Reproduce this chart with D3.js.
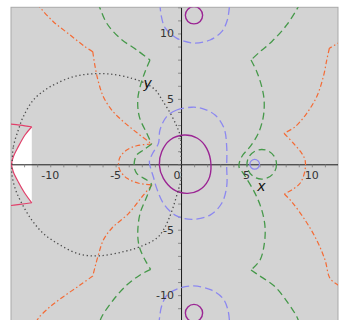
<!DOCTYPE html>
<html>
<head>
<meta charset="utf-8">
<script src="https://cdn.jsdelivr.net/npm/d3@7"></script>
<style>
  body { margin: 0; background: #fff; }
  svg { display: block; }
  text { font-family: "DejaVu Sans", sans-serif; }
</style>
</head>
<body>
<svg id="chart" width="340" height="320"></svg>
<script>
// ---- plot window and axis ticks ----
const xDomain = [-13, 12];
const yDomain = [-12, 12];
const xMinorTicks = d3.range(-13, 13);
const yMinorTicks = d3.range(-12, 13);
const xTickLabels = [-10, -5, 0, 5, 10];
const yTickLabels = [-10, -5, 5, 10];

// ---- level curves (x, y) ; each curve is a list of pieces split at corners ----
const purpleCenter = [[0.23,2.24],[1.25,1.99],[1.96,1.22],[2.29,-0.05],[2.09,-1.20],[1.32,-2.02],
  [0.43,-2.22],[-0.59,-1.91],[-1.35,-1.07],[-1.66,-0.05],[-1.48,0.96],[-0.84,1.86]];
const purpleRings = [[0.99, 11.39, 0.66], [0.99, -11.37, 0.66]];

const blueLoop = [[0.82,4.36],[-0.33,4.15],[-1.10,3.64],[-1.61,2.62],[-1.73,1.60],[-2.17,0.84],
  [-2.42,0.20],[-2.32,-0.31],[-2.12,-0.95],[-1.86,-1.84],[-1.35,-2.98],[-0.46,-3.88],[0.82,-4.21],
  [2.22,-3.88],[3.11,-2.98],[3.49,-1.71],[3.49,-0.18],[3.49,1.35],[3.29,2.75],[2.60,3.77],[1.58,4.28]];
const blueTop = [[-1.62,12.3],[-1.5,11.28],[-1.2,10.4],[-0.31,9.63],[0.97,9.27],[2.22,9.5],
  [3.11,10.14],[3.54,11.03],[3.72,12.3]];
const blueBottom = [[-1.7,-12.3],[-1.5,-10.89],[-1.07,-9.99],[-0.18,-9.48],[0.97,-9.3],[2.3,-9.6],
  [3.2,-10.25],[3.6,-11.2],[3.72,-12.3]];
const blueRing = [5.63, 0, 0.37];

const greenRight = [
  [[9.1,12.3],[8.97,12.05],[8.08,10.65],[6.93,9.37],[6.04,8.61],[5.35,7.97]],
  [[5.35,7.97],[5.79,7.08],[6.17,5.93],[6.35,4.92],[6.29,3.64],[5.91,2.37],[5.28,1.35],[4.64,0.58],
   [4.43,-0.18],[4.76,-0.69],[5.66,-2.22],[6.17,-3.49],[6.42,-4.77],[6.37,-6.04],[6.04,-7.32],[5.35,-8.08]],
  [[5.35,-8.08],[5.91,-8.46],[7.19,-9.36],[8.20,-10.63],[8.85,-11.65],[9.1,-12.3]]
];
const greenLeft = [
  [[-6.4,12.3],[-6.25,12.05],[-5.68,10.78],[-4.66,9.63],[-3.39,8.74],[-2.37,7.97]],
  [[-2.37,7.97],[-2.75,7.08],[-3.13,5.93],[-3.31,4.92],[-3.19,3.64],[-2.62,2.37],[-2.24,1.55]],
  [[-2.24,1.55],[-2.88,1.09],[-3.39,0.71],[-3.59,-0.05],[-3.39,-0.69],[-2.62,-1.20],[-2.24,-1.51]],
  [[-2.24,-1.51],[-2.62,-2.48],[-3.13,-3.75],[-3.31,-5.28],[-3.19,-6.30],[-2.75,-7.32],[-2.32,-8.03]],
  [[-2.32,-8.03],[-3.13,-8.46],[-4.15,-9.23],[-5.18,-10.37],[-6.06,-11.65],[-6.3,-12.3]]
];
const greenRing = [6.17, 0, 1.13];

const orangeLeft = [
  [[-11.0,12.3],[-10.83,12.05],[-9.76,10.90],[-8.49,9.89],[-7.34,8.99],[-6.75,8.61]],
  [[-6.75,8.61],[-6.57,7.46],[-6.32,6.31],[-5.94,5.17],[-5.30,4.15],[-4.41,3.26],[-3.39,2.43],[-2.24,1.55]],
  [[-2.24,1.55],[-3.39,1.42],[-4.15,1.09],[-4.66,0.56],[-4.78,-0.05],[-4.64,-0.51],[-4.13,-1.07],
   [-3.23,-1.45],[-2.22,-1.58]],
  [[-2.22,-1.58],[-2.98,-2.48],[-4.00,-3.75],[-5.28,-4.87],[-5.94,-5.79],[-6.32,-6.93],[-6.57,-7.83],[-6.75,-8.54]],
  [[-6.75,-8.54],[-7.72,-9.23],[-9.00,-10.12],[-10.02,-10.89],[-10.91,-11.77],[-11.2,-12.3]]
];
const orangeRight = [
  [[12.3,9.4],[12.0,9.25],[11.34,8.87]],
  [[11.34,8.87],[11.14,7.97],[10.88,6.70],[10.37,5.17],[9.61,3.90],[8.72,2.87],[7.87,2.37]],
  [[7.87,2.37],[8.59,1.61],[9.23,0.84],[9.48,0.33],[9.48,-0.44],[9.10,-1.45],[8.46,-1.96],[7.90,-2.27]],
  [[7.90,-2.27],[8.46,-2.86],[9.48,-4.26],[10.37,-5.79],[11.01,-7.32],[11.39,-8.72],[12.0,-9.23],[12.3,-9.4]]
];

const redEdge = [
  [[-13.4,3.12],[-12.31,3.0],[-11.41,2.87]],
  [[-11.41,2.87],[-11.93,2.24],[-12.44,1.35],[-12.82,0.58],[-12.96,0],[-12.82,-0.59],[-12.44,-1.35],
   [-11.93,-2.23],[-11.41,-2.94]],
  [[-11.41,-2.94],[-12.31,-3.06],[-13.4,-3.2]]
];

const dottedLoop = [[-12.92,0],[-12.82,1.35],[-12.44,2.62],[-12.06,3.64],[-11.29,4.92],[-10.40,5.68],
  [-9.50,6.19],[-8.23,6.70],[-6.96,6.90],[-5.43,6.90],[-3.75,6.57],[-2.73,6.19],[-1.96,5.68],
  [-1.45,4.92],[-0.82,3.90],[-0.31,2.87],[-0.05,2.11],[0.0,1.09],[0.0,-0.05],[0.0,-1.20],
  [-0.21,-1.96],[-0.59,-3.24],[-0.97,-4.26],[-1.35,-5.02],[-1.86,-5.66],[-3.13,-6.30],[-4.41,-6.68],
  [-6.19,-6.99],[-7.72,-6.88],[-9.25,-6.17],[-10.53,-5.28],[-11.41,-4.26],[-12.18,-2.98],
  [-12.69,-1.83],[-12.94,-0.69]];

// ---- scales ----
const svg = d3.select("#chart");
const x = d3.scaleLinear().domain(xDomain).range([11, 338]);
const y = d3.scaleLinear().domain(yDomain).range([321.3, 7.3]);

const smooth = d3.line().x(d => x(d[0])).y(d => y(d[1])).curve(d3.curveCatmullRom.alpha(0.5));
const smoothClosed = d3.line().x(d => x(d[0])).y(d => y(d[1])).curve(d3.curveCatmullRomClosed.alpha(0.5));
const pieces = segs => segs.map(s => smooth(s)).join("");

svg.append("defs").append("clipPath").attr("id", "plotClip")
  .append("rect").attr("x", x(xDomain[0])).attr("y", y(yDomain[1]))
  .attr("width", x(xDomain[1]) - x(xDomain[0])).attr("height", y(yDomain[0]) - y(yDomain[1]));

// background
svg.append("rect").attr("x", x(xDomain[0])).attr("y", y(yDomain[1]))
  .attr("width", x(xDomain[1]) - x(xDomain[0])).attr("height", y(yDomain[0]) - y(yDomain[1]))
  .attr("fill", "#d3d3d3").attr("stroke", "#a9a9a9").attr("stroke-width", 1);

const plot = svg.append("g").attr("clip-path", "url(#plotClip)");

// white region on the far left
plot.append("path").attr("d", pieces(redEdge) + "Z").attr("fill", "#fff").attr("stroke", "none");

// axes
const xAxis = plot.append("g").attr("transform", `translate(0,${y(0)})`)
  .call(d3.axisBottom(x).tickValues(xMinorTicks).tickSize(3).tickSizeOuter(0).tickFormat(""));
const yAxis = plot.append("g").attr("transform", `translate(${x(0)},0)`)
  .call(d3.axisLeft(y).tickValues(yMinorTicks).tickSize(3).tickSizeOuter(0).tickFormat(""));
[xAxis, yAxis].forEach(g => {
  g.select(".domain").attr("stroke", "#1a1a1a").attr("stroke-width", 1);
  g.selectAll(".tick line").attr("stroke", "#777").attr("stroke-width", 0.8);
});

// curves
const stroke = (sel, color, dash, w) => sel.attr("fill", "none").attr("stroke", color)
  .attr("stroke-width", w).attr("stroke-dasharray", dash);

stroke(plot.append("path").attr("d", pieces(redEdge)), "#e0406a", null, 1.2);

stroke(plot.append("path").attr("d", pieces(orangeLeft)), "#f46b35", "5,2.5,1.5,2.5", 1.2);
stroke(plot.append("path").attr("d", pieces(orangeRight)), "#f46b35", "5,2.5,1.5,2.5", 1.2);

stroke(plot.append("path").attr("d", pieces(greenLeft)), "#46994a", "7,4", 1.3);
stroke(plot.append("path").attr("d", pieces(greenRight)), "#46994a", "7,4", 1.3);
stroke(plot.append("circle").attr("cx", x(greenRing[0])).attr("cy", y(greenRing[1]))
  .attr("r", x(greenRing[2]) - x(0)), "#46994a", "7,4", 1.3);

stroke(plot.append("path").attr("d", smoothClosed(blueLoop)), "#8c88f0", "8,4", 1.3);
stroke(plot.append("path").attr("d", smooth(blueTop)), "#8c88f0", "8,4", 1.3);
stroke(plot.append("path").attr("d", smooth(blueBottom)), "#8c88f0", "8,4", 1.3);
stroke(plot.append("circle").attr("cx", x(blueRing[0])).attr("cy", y(blueRing[1]))
  .attr("r", x(blueRing[2]) - x(0)), "#8c88f0", null, 1.3);

stroke(plot.append("path").attr("d", smoothClosed(purpleCenter)), "#9b2594", null, 1.4);
purpleRings.forEach(c => stroke(plot.append("circle").attr("cx", x(c[0])).attr("cy", y(c[1]))
  .attr("r", x(c[2]) - x(0)), "#9b2594", null, 1.4));

stroke(plot.append("path").attr("d", smoothClosed(dottedLoop)), "#4a4a4a", "1.3,2.7", 1.3);

// tick labels
svg.append("g").selectAll("text").data(xTickLabels).join("text")
  .attr("x", d => d === 0 ? x(0) - 4 : x(d)).attr("y", y(0) + 15)
  .attr("text-anchor", "middle").attr("font-size", 11).attr("fill", "#333")
  .text(d => d);
svg.append("g").selectAll("text").data(yTickLabels).join("text")
  .attr("x", x(0) - 7).attr("y", d => y(d) + 4)
  .attr("text-anchor", "end").attr("font-size", 11).attr("fill", "#333")
  .text(d => d);

// axis names
svg.append("text").attr("x", x(6.15)).attr("y", y(-2.05))
  .attr("text-anchor", "middle").attr("font-family", "Liberation Serif, serif")
  .attr("font-style", "italic").attr("font-size", 14).attr("fill", "#111").text("x");
svg.append("text").attr("x", x(-2.55)).attr("y", y(5.85))
  .attr("text-anchor", "middle").attr("font-family", "Liberation Serif, serif")
  .attr("font-style", "italic").attr("font-size", 14).attr("fill", "#111").text("y");
</script>
</body>
</html>
